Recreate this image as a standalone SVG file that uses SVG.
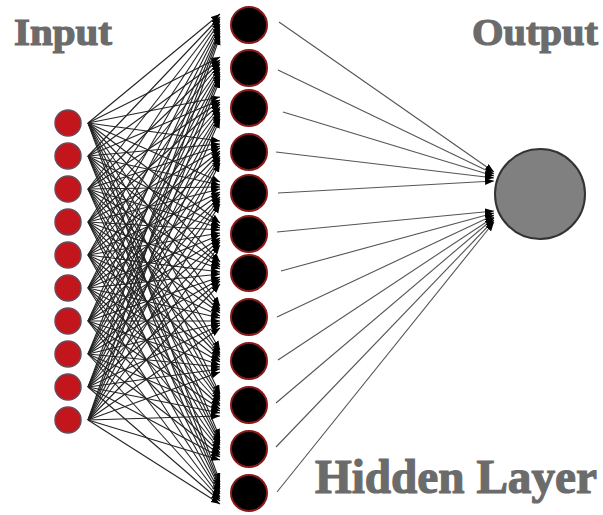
<svg xmlns="http://www.w3.org/2000/svg" width="603" height="515" viewBox="0 0 603 515">
<style>
.lbl{font-family:"Liberation Serif","DejaVu Serif",serif;font-weight:bold;fill:#6b6b6b;stroke:#6b6b6b;stroke-width:1.2}
.inp{fill:#c3161c;stroke:#6a4a5a;stroke-width:1.5}
.hid{fill:#000;stroke:#8a1a1a;stroke-width:2}
.out{fill:#808080;stroke:#333;stroke-width:2}
.e1 line{stroke:#222;stroke-width:1.1;marker-end:url(#ah)}
.e2 line{stroke:#555;stroke-width:1.1;marker-end:url(#ah)}
</style>
<defs>
<marker id="ah" markerUnits="userSpaceOnUse" markerWidth="10" markerHeight="8" refX="9" refY="3.5" orient="auto"><path d="M0,0 L9,3.5 L0,7 z" fill="#000"/></marker>
</defs>
<rect width="603" height="515" fill="#fff"/>
<text class="lbl" x="14" y="45" font-size="38" textLength="98" lengthAdjust="spacingAndGlyphs">Input</text>
<text class="lbl" x="472" y="45" font-size="38" textLength="126" lengthAdjust="spacingAndGlyphs">Output</text>
<text class="lbl" x="315" y="493" font-size="48" textLength="282" lengthAdjust="spacingAndGlyphs">Hidden Layer</text>
<g id="connectors">
<g class="e1">
<line x1="88" y1="123" x2="220" y2="14"/><line x1="88" y1="123" x2="220" y2="57"/><line x1="88" y1="123" x2="220" y2="97"/><line x1="88" y1="123" x2="220" y2="141"/><line x1="88" y1="123" x2="220" y2="182"/><line x1="88" y1="123" x2="220" y2="223"/><line x1="88" y1="123" x2="220" y2="262"/><line x1="88" y1="123" x2="220" y2="306"/><line x1="88" y1="123" x2="220" y2="350"/><line x1="88" y1="123" x2="220" y2="394"/><line x1="88" y1="123" x2="220" y2="438"/><line x1="88" y1="123" x2="220" y2="482"/>
<line x1="88" y1="156" x2="220" y2="17"/><line x1="88" y1="156" x2="220" y2="60"/><line x1="88" y1="156" x2="220" y2="100"/><line x1="88" y1="156" x2="220" y2="144"/><line x1="88" y1="156" x2="220" y2="185"/><line x1="88" y1="156" x2="220" y2="226"/><line x1="88" y1="156" x2="220" y2="265"/><line x1="88" y1="156" x2="220" y2="309"/><line x1="88" y1="156" x2="220" y2="353"/><line x1="88" y1="156" x2="220" y2="397"/><line x1="88" y1="156" x2="220" y2="441"/><line x1="88" y1="156" x2="220" y2="485"/>
<line x1="88" y1="189" x2="220" y2="19"/><line x1="88" y1="189" x2="220" y2="62"/><line x1="88" y1="189" x2="220" y2="102"/><line x1="88" y1="189" x2="220" y2="146"/><line x1="88" y1="189" x2="220" y2="187"/><line x1="88" y1="189" x2="220" y2="228"/><line x1="88" y1="189" x2="220" y2="267"/><line x1="88" y1="189" x2="220" y2="311"/><line x1="88" y1="189" x2="220" y2="355"/><line x1="88" y1="189" x2="220" y2="399"/><line x1="88" y1="189" x2="220" y2="443"/><line x1="88" y1="189" x2="220" y2="487"/>
<line x1="88" y1="222" x2="220" y2="21"/><line x1="88" y1="222" x2="220" y2="64"/><line x1="88" y1="222" x2="220" y2="104"/><line x1="88" y1="222" x2="220" y2="148"/><line x1="88" y1="222" x2="220" y2="189"/><line x1="88" y1="222" x2="220" y2="230"/><line x1="88" y1="222" x2="220" y2="269"/><line x1="88" y1="222" x2="220" y2="313"/><line x1="88" y1="222" x2="220" y2="357"/><line x1="88" y1="222" x2="220" y2="401"/><line x1="88" y1="222" x2="220" y2="445"/><line x1="88" y1="222" x2="220" y2="489"/>
<line x1="88" y1="255" x2="220" y2="24"/><line x1="88" y1="255" x2="220" y2="67"/><line x1="88" y1="255" x2="220" y2="107"/><line x1="88" y1="255" x2="220" y2="151"/><line x1="88" y1="255" x2="220" y2="192"/><line x1="88" y1="255" x2="220" y2="233"/><line x1="88" y1="255" x2="220" y2="272"/><line x1="88" y1="255" x2="220" y2="316"/><line x1="88" y1="255" x2="220" y2="360"/><line x1="88" y1="255" x2="220" y2="404"/><line x1="88" y1="255" x2="220" y2="448"/><line x1="88" y1="255" x2="220" y2="492"/>
<line x1="88" y1="288" x2="220" y2="26"/><line x1="88" y1="288" x2="220" y2="69"/><line x1="88" y1="288" x2="220" y2="109"/><line x1="88" y1="288" x2="220" y2="153"/><line x1="88" y1="288" x2="220" y2="194"/><line x1="88" y1="288" x2="220" y2="235"/><line x1="88" y1="288" x2="220" y2="274"/><line x1="88" y1="288" x2="220" y2="318"/><line x1="88" y1="288" x2="220" y2="362"/><line x1="88" y1="288" x2="220" y2="406"/><line x1="88" y1="288" x2="220" y2="450"/><line x1="88" y1="288" x2="220" y2="494"/>
<line x1="88" y1="321" x2="220" y2="29"/><line x1="88" y1="321" x2="220" y2="72"/><line x1="88" y1="321" x2="220" y2="112"/><line x1="88" y1="321" x2="220" y2="156"/><line x1="88" y1="321" x2="220" y2="197"/><line x1="88" y1="321" x2="220" y2="238"/><line x1="88" y1="321" x2="220" y2="277"/><line x1="88" y1="321" x2="220" y2="321"/><line x1="88" y1="321" x2="220" y2="365"/><line x1="88" y1="321" x2="220" y2="409"/><line x1="88" y1="321" x2="220" y2="453"/><line x1="88" y1="321" x2="220" y2="497"/>
<line x1="88" y1="354" x2="220" y2="31"/><line x1="88" y1="354" x2="220" y2="74"/><line x1="88" y1="354" x2="220" y2="114"/><line x1="88" y1="354" x2="220" y2="158"/><line x1="88" y1="354" x2="220" y2="199"/><line x1="88" y1="354" x2="220" y2="240"/><line x1="88" y1="354" x2="220" y2="279"/><line x1="88" y1="354" x2="220" y2="323"/><line x1="88" y1="354" x2="220" y2="367"/><line x1="88" y1="354" x2="220" y2="411"/><line x1="88" y1="354" x2="220" y2="455"/><line x1="88" y1="354" x2="220" y2="499"/>
<line x1="88" y1="387" x2="220" y2="33"/><line x1="88" y1="387" x2="220" y2="76"/><line x1="88" y1="387" x2="220" y2="116"/><line x1="88" y1="387" x2="220" y2="160"/><line x1="88" y1="387" x2="220" y2="201"/><line x1="88" y1="387" x2="220" y2="242"/><line x1="88" y1="387" x2="220" y2="281"/><line x1="88" y1="387" x2="220" y2="325"/><line x1="88" y1="387" x2="220" y2="369"/><line x1="88" y1="387" x2="220" y2="413"/><line x1="88" y1="387" x2="220" y2="457"/><line x1="88" y1="387" x2="220" y2="501"/>
<line x1="88" y1="420" x2="220" y2="36"/><line x1="88" y1="420" x2="220" y2="79"/><line x1="88" y1="420" x2="220" y2="119"/><line x1="88" y1="420" x2="220" y2="163"/><line x1="88" y1="420" x2="220" y2="204"/><line x1="88" y1="420" x2="220" y2="245"/><line x1="88" y1="420" x2="220" y2="284"/><line x1="88" y1="420" x2="220" y2="328"/><line x1="88" y1="420" x2="220" y2="372"/><line x1="88" y1="420" x2="220" y2="416"/><line x1="88" y1="420" x2="220" y2="460"/><line x1="88" y1="420" x2="220" y2="504"/>
</g>
<g class="e2">
<line x1="279" y1="22" x2="494" y2="172"/><line x1="278" y1="70" x2="494" y2="174"/><line x1="283" y1="112" x2="494" y2="176"/><line x1="276" y1="152" x2="494" y2="178"/><line x1="278" y1="193" x2="494" y2="181"/><line x1="277" y1="232" x2="494" y2="211"/><line x1="281" y1="271" x2="494" y2="213"/><line x1="277" y1="317" x2="494" y2="215"/><line x1="278" y1="360" x2="494" y2="217"/><line x1="276" y1="403" x2="494" y2="218"/><line x1="276" y1="447" x2="494" y2="220"/><line x1="277" y1="492" x2="494" y2="222"/>
</g>
</g>
<g id="input-nodes">
<circle id="in1" class="inp" cx="68" cy="123" r="13"/><circle id="in2" class="inp" cx="68" cy="156" r="13"/><circle id="in3" class="inp" cx="68" cy="189" r="13"/><circle id="in4" class="inp" cx="68" cy="222" r="13"/><circle id="in5" class="inp" cx="68" cy="255" r="13"/><circle id="in6" class="inp" cx="68" cy="288" r="13"/><circle id="in7" class="inp" cx="68" cy="321" r="13"/><circle id="in8" class="inp" cx="68" cy="354" r="13"/><circle id="in9" class="inp" cx="68" cy="387" r="13"/><circle id="in10" class="inp" cx="68" cy="420" r="13"/>
</g>
<g id="hidden-nodes">
<circle id="h1" class="hid" cx="249" cy="25" r="18"/><circle id="h2" class="hid" cx="249" cy="68" r="18"/><circle id="h3" class="hid" cx="249" cy="108" r="18"/><circle id="h4" class="hid" cx="249" cy="152" r="18"/><circle id="h5" class="hid" cx="249" cy="193" r="18"/><circle id="h6" class="hid" cx="249" cy="234" r="18"/><circle id="h7" class="hid" cx="249" cy="273" r="18"/><circle id="h8" class="hid" cx="249" cy="317" r="18"/><circle id="h9" class="hid" cx="249" cy="361" r="18"/><circle id="h10" class="hid" cx="249" cy="405" r="18"/><circle id="h11" class="hid" cx="249" cy="449" r="18"/><circle id="h12" class="hid" cx="249" cy="493" r="18"/>
</g>
<g id="output-node">
<circle class="out" cx="540" cy="194" r="45"/>
</g>
</svg>
